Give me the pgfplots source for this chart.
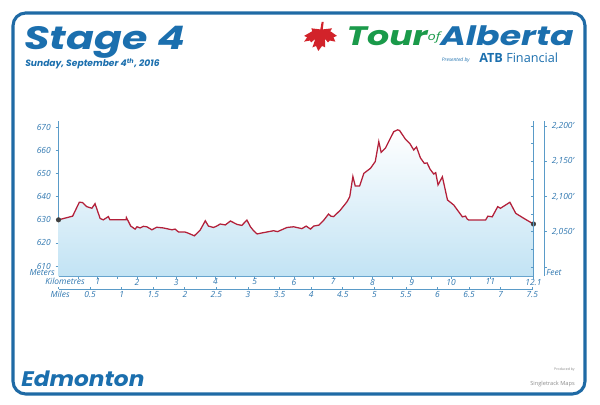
\documentclass[border=0pt]{standalone}
\usepackage{fontspec}
\setmainfont{Open Sans}
\newfontfamily\headfont{Poppins}
\usepackage{pgfplots}
\usepackage{pgfplotstable}
\pgfplotsset{compat=1.18}
\definecolor{titleblue}{HTML}{1B6FAE}
\definecolor{tickblue}{HTML}{2F77B0}
\definecolor{axblue}{HTML}{5A9BC8}
\definecolor{framblue}{HTML}{1F6AA5}
\definecolor{curvered}{HTML}{B3203A}
\definecolor{fillblue}{HTML}{C2E3F4}
\definecolor{tourgreen}{HTML}{1A9A4A}
\definecolor{leafred}{HTML}{D2232A}

% distance (km) vs elevation (m)
\pgfplotstableread{
km m
0 630
0.36 631.6
0.53 637.6
0.61 637.5
0.72 635.7
0.85 635
0.93 637
1.06 630.6
1.14 630
1.27 631.4
1.31 630
1.72 630
1.73 631
1.84 627.3
1.95 626
2.0 627
2.08 626.5
2.16 627.2
2.25 627
2.38 625.7
2.5 626.8
2.67 626.5
2.89 625.7
2.97 626
3.06 624.7
3.23 624.7
3.31 624.2
3.46 623.1
3.61 625.6
3.74 629.6
3.82 627.3
3.95 626.7
4.03 627.3
4.12 628.2
4.25 627.8
4.38 629.5
4.46 628.8
4.55 628
4.67 627.6
4.8 629.9
4.89 627
4.97 625.3
5.06 623.9
5.14 624.2
5.48 625.3
5.58 624.9
5.82 626.7
5.99 627
6.2 626.2
6.31 627.3
6.42 626
6.5 627.3
6.63 627.7
6.76 629.9
6.88 632.5
6.94 631.6
7.01 631.4
7.18 634.2
7.35 637.8
7.42 640
7.5 648.7
7.56 644.6
7.67 644.6
7.78 650.1
7.95 652.3
8.07 655.2
8.16 663.8
8.22 659.2
8.33 661
8.54 668.1
8.64 668.9
8.69 668.6
8.84 664.8
8.95 663
9.05 660.2
9.12 661.5
9.22 656.8
9.32 654.4
9.39 654.6
9.47 651.8
9.56 649.8
9.61 650.4
9.67 645.1
9.78 648.6
9.91 638.6
10.07 636.4
10.29 631.3
10.37 631.6
10.41 630.4
10.45 629.9
10.88 629.9
10.94 631.6
11.05 631.3
11.19 635.7
11.26 635
11.5 637.6
11.65 632.8
11.86 630.6
12.1 628.2
}\profile

\pgfplotstableread{
km m
0 630
12.1 628.2
}\ends

\tikzset{tk/.style={font=\fontsize{6}{7}\selectfont\itshape, text=tickblue}}
\pgfplotsset{
  prof/.style={scale only axis, width=11.87cm, height=3.875cm,
    at={(1.4625cm,-6.9cm)}, anchor=south west,
    axis line style={axblue, line width=0.6pt},
    tick style={axblue, line width=0.5pt},
    major tick length=2pt, minor tick length=2pt,
    tick label style={tk}},
}

\begin{document}
\begin{tikzpicture}
\begin{scope}[x=0.025cm, y=-0.025cm]
  \fill[white] (0,0) rectangle (600,405);
  \draw[framblue, line width=2.2pt, rounded corners=9pt] (13,13) rectangle (585,394);
  \node[anchor=base west, inner sep=0, text=titleblue] at (24,50)
    {\scalebox{1.27}[1]{\headfont\bfseries\itshape\fontsize{23}{23}\selectfont Stage 4}};
  \node[anchor=base west, inner sep=0, text=titleblue] at (25,67)
    {\headfont\bfseries\itshape\fontsize{6.5}{7}\selectfont Sunday, September 4\textsuperscript{th}, 2016};
  % maple leaf
  \begin{scope}[shift={(321,33)}, x=0.5cm, y=-0.45cm, xslant=0.15]
    \fill[leafred] (0,1) -- (-0.15,0.72) -- (-0.32,0.8) -- (-0.24,0.33) -- (-0.42,0.52)
      -- (-0.5,0.42) -- (-0.78,0.48) -- (-0.66,0.24) -- (-0.82,0.16) -- (-0.45,-0.1)
      -- (-0.52,-0.26) -- (-0.06,-0.2) -- (-0.05,-0.62) -- (0.05,-0.62) -- (0.06,-0.2)
      -- (0.52,-0.26) -- (0.45,-0.1) -- (0.82,0.16) -- (0.66,0.24) -- (0.78,0.48)
      -- (0.5,0.42) -- (0.42,0.52) -- (0.24,0.33) -- (0.32,0.8) -- (0.15,0.72) -- cycle;
  \end{scope}
  \node[anchor=base east, inner sep=0] at (574,46)
    {\scalebox{1.3}[1]{\headfont\bfseries\itshape\fontsize{19}{19}\selectfont
     \textcolor{tourgreen}{Tour}\raisebox{4pt}{\textcolor{tourgreen}{\normalfont\itshape\fontsize{8}{8}\selectfont of}}\textcolor{titleblue}{Alberta}}};
  \node[anchor=base east, inner sep=0, text=titleblue] at (470,62)
    {\fontsize{3.5}{4}\selectfont\itshape Presented by};
  \node[anchor=base west, inner sep=0, text=titleblue] at (479,63)
    {\fontsize{9}{9}\selectfont\textbf{ATB} Financial};
  \node[anchor=base west, inner sep=0, text=titleblue] at (21,387)
    {\scalebox{1.1}[1]{\headfont\bfseries\itshape\fontsize{15}{15}\selectfont Edmonton}};
  \node[anchor=base east, inner sep=0, text=black!45, align=right] at (575,386)
    {\fontsize{2.5}{3}\selectfont Produced by\\[-1pt]\fontsize{4}{4}\selectfont Singletrack Maps};
  \node[anchor=east, inner sep=0, tk] at (55,273) {Meters};
  \node[anchor=east, inner sep=0, tk] at (85,281) {Kilometres};
  \node[anchor=east, inner sep=0, tk] at (70,294) {Miles};
  \node[anchor=west, inner sep=0, tk] at (546,273) {Feet};
\end{scope}

% elevation profile
\begin{axis}[prof,
  xmin=0, xmax=12.1, ymin=605.7, ymax=672.7,
  axis x line*=bottom, axis y line*=left,
  xtick={1,2,...,11,12.1}, xticklabels={1,2,3,4,5,6,7,8,9,10,11,12.1},
  minor xtick={0.5,1.5,...,11.5},
  ytick={610,620,...,670}, yticklabels={610,620,630,640,650,660,670},
  tick align=outside,
  xticklabel style={yshift=3.5pt},
  clip=false]
  \addplot[draw=none, top color=white, bottom color=fillblue] table[x=km, y=m] {\profile} \closedcycle;
  \addplot[curvered, line width=0.9pt] table[x=km, y=m] {\profile};
  \addplot[only marks, mark=*, mark size=1.6pt, black!75] table[x=km, y=m] {\ends};
\end{axis}

% feet ticks on right edge of plot
\begin{axis}[prof,
  xmin=0, xmax=12.1, ymin=1987.2, ymax=2207.0,
  hide x axis, axis y line*=right,
  ytick={2000,2025,...,2200}, yticklabels={},
  tick align=inside]
\end{axis}

% feet scale
\begin{axis}[prof, width=12.1375cm,
  xmin=0, xmax=12.1, ymin=1987.2, ymax=2207.0,
  hide x axis, axis y line*=right,
  ytick={2000,2050,2100,2150,2200},
  yticklabels={,{2,050'},{2,100'},{2,150'},{2,200'}},
  tick align=outside]
\end{axis}

% miles scale
\begin{axis}[prof, height=0.1cm, at={(1.4625cm,-7.2325cm)},
  xmin=0, xmax=7.5186, ymin=0, ymax=1,
  hide y axis, axis x line*=bottom,
  xtick={0,0.5,...,7.5},
  xticklabels={,0.5,1,1.5,2,2.5,3,3.5,4,4.5,5,5.5,6,6.5,7,7.5},
  tick align=inside,
  xticklabel style={yshift=2pt}]
\end{axis}
\end{tikzpicture}
\end{document}
